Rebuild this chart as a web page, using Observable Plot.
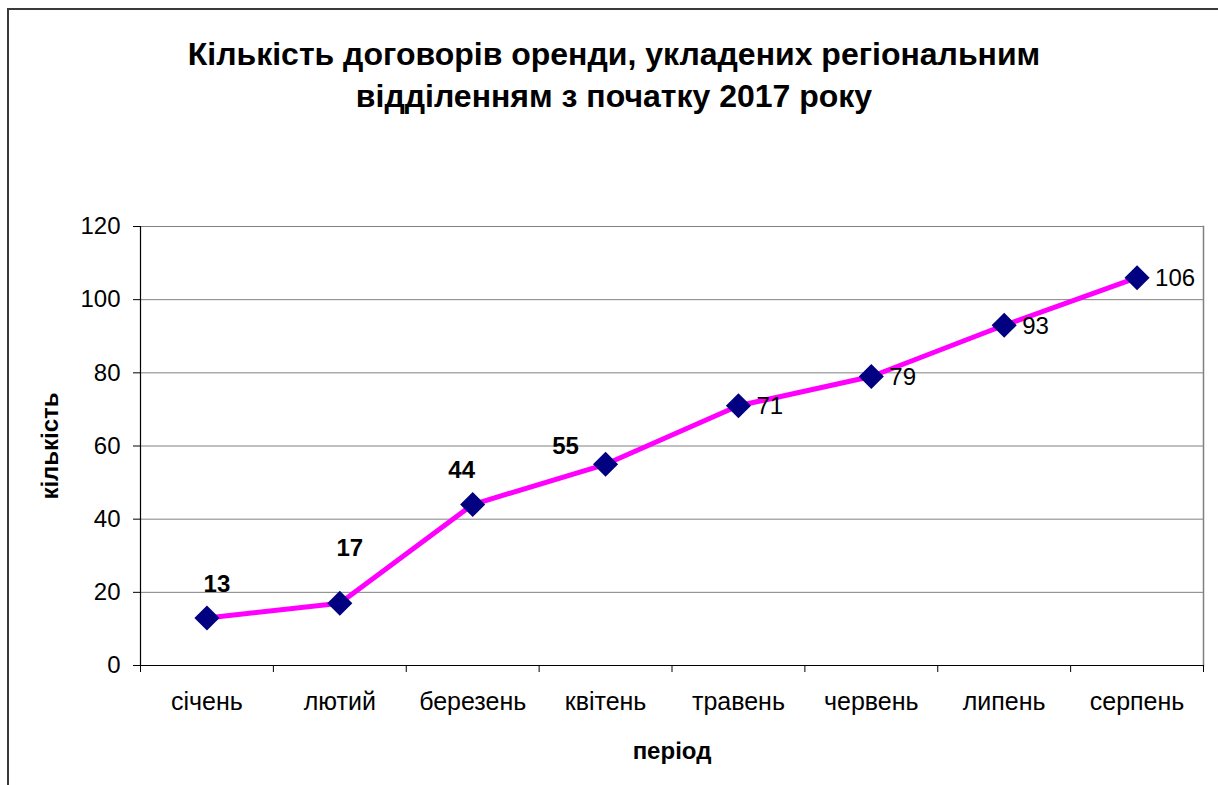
<!DOCTYPE html>
<html>
<head>
<meta charset="utf-8">
<script src="https://cdn.jsdelivr.net/npm/d3@7"></script>
<script src="https://cdn.jsdelivr.net/npm/@observablehq/plot@0.6"></script>
<style>
  html, body { margin: 0; padding: 0; background: #fff; overflow: hidden; width: 1218px; height: 785px; }
  #frame { position: absolute; left: 7px; top: 8px; width: 1240px; height: 820px; border: 2px solid #3a3a3a; box-sizing: border-box; }
  #title { position: absolute; left: 0; top: 33px; width: 1228px; text-align: center; font-family: "Liberation Sans", Arial, sans-serif; font-weight: bold; font-size: 32px; line-height: 42px; color: #000; }
  #chart { position: absolute; left: 0; top: 180px; }
</style>
</head>
<body>
<div id="frame"></div>
<div id="title">Кількість договорів оренди, укладених регіональним<br>відділенням з початку 2017 року</div>
<div id="chart"></div>
<script>
// Data
const months = ["січень", "лютий", "березень", "квітень", "травень", "червень", "липень", "серпень"];
const counts = [13, 17, 44, 55, 71, 79, 93, 106];
const yTicks = [0, 20, 40, 60, 80, 100, 120];
const xLabel = "період";
const yLabel = "кількість";

const data = months.map((m, i) => ({i, month: m, value: counts[i]}));

// label placement (styling), per point
const labelStyle = [
  {bold: true, dx: 10, dy: -34},
  {bold: true, dx: 10, dy: -55},
  {bold: true, dx: -11, dy: -34},
  {bold: true, dx: -40, dy: -18},
  {bold: false, dx: 18, dy: 1},
  {bold: false, dx: 18, dy: 1},
  {bold: false, dx: 18, dy: 1},
  {bold: false, dx: 18, dy: 1}
];

const labelMarks = data.map((d, k) => {
  const s = labelStyle[k];
  return Plot.text([d], {
    x: "i", y: "value", text: (d) => String(d.value),
    dx: s.dx, dy: s.dy,
    textAnchor: s.bold ? "middle" : "start",
    fontWeight: s.bold ? "bold" : "normal",
    fontSize: 24, fill: "#000"
  });
});

const boundaries = d3.range(months.length + 1).map(k => k - 0.5);

const plot = Plot.plot({
  width: 1218,
  height: 605,
  marginLeft: 140,
  marginRight: 15,
  marginTop: 46,
  marginBottom: 120,
  style: {fontFamily: "'Liberation Sans', Arial, sans-serif", fontSize: "24px", color: "#000", background: "transparent"},
  x: {type: "linear", domain: [-0.5, months.length - 0.5], label: null},
  y: {domain: [0, 120], label: null},
  marks: [
    Plot.gridY(yTicks, {stroke: "#808080", strokeOpacity: 1, strokeWidth: 1}),
    Plot.frame({anchor: "right", stroke: "#808080", strokeWidth: 1.5}),
    Plot.frame({anchor: "left", stroke: "#000", strokeWidth: 1.2}),
    Plot.ruleY([0], {stroke: "#000", strokeWidth: 1.2}),
    Plot.axisY({ticks: yTicks, tickSize: 7, tickPadding: 13, fontSize: 24, label: null, stroke: "#000"}),
    Plot.axisX({ticks: boundaries, tickSize: 7, tickFormat: () => "", label: null, stroke: "#000"}),
    Plot.axisX({ticks: d3.range(months.length), tickSize: 0, tickPadding: 27, tickFormat: (i) => months[i], fontSize: 25, label: null}),
    Plot.line(data, {x: "i", y: "value", stroke: "#ff00ff", strokeWidth: 5}),
    Plot.dot(data, {x: "i", y: "value", symbol: "diamond2", r: 11.3, fill: "#000080", stroke: "none"}),
    ...labelMarks,
    Plot.text([xLabel], {frameAnchor: "bottom", dy: 93, textAnchor: "middle", text: d => d, fontWeight: "bold", fontSize: 24}),
    Plot.text([yLabel], {frameAnchor: "left", dx: -90, rotate: -90, textAnchor: "middle", text: d => d, fontWeight: "bold", fontSize: 24})
  ]
});
document.getElementById("chart").appendChild(plot);
</script>
</body>
</html>
